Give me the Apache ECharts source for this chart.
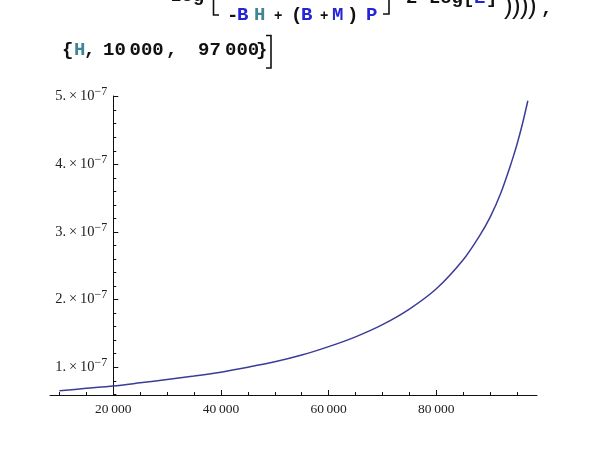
<!DOCTYPE html>
<html>
<head>
<meta charset="utf-8">
<script src="https://cdn.jsdelivr.net/npm/echarts@6/dist/echarts.min.js"></script>
<style>
  html, body { margin: 0; padding: 0; background: #fff; }
  #chart { width: 606px; height: 465px; }
</style>
</head>
<body>
<div id="chart"></div>
<script>
"use strict";

// H values and the plotted values (in units of 10^-7)
var hValues = [10000, 15000, 20000, 25000, 30000, 35000, 40000, 45000, 50000, 55000,
               60000, 65000, 70000, 75000, 80000, 85000, 88000, 90000, 92000, 94000,
               95000, 96000, 97000];
var yValues = [0.653, 0.688, 0.722, 0.77, 0.82, 0.87, 0.928, 1.0, 1.08, 1.18,
               1.305, 1.45, 1.63, 1.86, 2.16, 2.59, 2.94, 3.22, 3.58, 4.04,
               4.3, 4.6, 4.94];

// ticks
var xMajorTicks = [20000, 40000, 60000, 80000];
var xMinorTicks = [10000, 15000, 25000, 30000, 35000, 45000, 50000, 55000,
                   65000, 70000, 75000, 85000, 90000, 95000];
var yMajorTicks = [1, 2, 3, 4, 5];
var yMinorTicks = [0.6, 0.8, 1.2, 1.4, 1.6, 1.8, 2.2, 2.4, 2.6, 2.8, 3.2, 3.4, 3.6, 3.8,
                   4.2, 4.4, 4.6, 4.8];

var X_MIN = 8250, X_MAX = 98700;
var Y_MIN = 0.59, Y_MAX = 5.01;

var BLUE = '#2424d8';
var TEAL = '#3f8595';
var INK = '#111';
var CODE_FONT = 'Liberation Mono';

var chart = echarts.init(document.getElementById('chart'), null, { renderer: 'canvas' });

function codeText(str, left, y, color, size, weight, family) {
    return {
        type: 'text',
        x: left,
        y: y,
        style: {
            text: str,
            fill: color || INK,
            font: (weight || 'bold') + ' ' + (size || 19) + 'px "' + (family || CODE_FONT) + '"',
            verticalAlign: 'middle'
        },
        silent: true
    };
}

function bracket(points) {
    return {
        type: 'polyline',
        shape: { points: points },
        style: { stroke: INK, lineWidth: 1.6, fill: null },
        silent: true
    };
}

var graphics = [
    // first (cut) line of the input cell
    codeText('Log', 170, -4),
    bracket([[213.5, -3], [213.5, 15], [219, 15]]),
    codeText('-', 227, 16),
    codeText('B', 237, 15, BLUE),
    codeText('H', 254, 15, TEAL),
    codeText('+', 274, 16, INK, 14),
    codeText('(', 291, 15),
    codeText('B', 301, 15, BLUE),
    codeText('+', 320, 16, INK, 14),
    codeText('M', 332, 15, BLUE),
    codeText(')', 347, 15),
    codeText('P', 366, 15, BLUE),
    bracket([[383, 14], [389, 14], [389, -3]]),
    codeText('2 Log[', 406, -2),
    codeText('E', 474, -2, BLUE),
    codeText(']', 486, -2),
    codeText(')', 504, 7, INK, 26, 'normal', 'Liberation Sans'),
    codeText(')', 512, 7, INK, 26, 'normal', 'Liberation Sans'),
    codeText(')', 520, 7, INK, 26, 'normal', 'Liberation Sans'),
    codeText(')', 528, 7, INK, 26, 'normal', 'Liberation Sans'),
    codeText(',', 541, 9),
    // second line
    codeText('{', 62, 50),
    codeText('H', 74, 50, TEAL),
    codeText(',', 84, 50),
    codeText('10', 103, 50),
    codeText('000', 129.5, 50),
    codeText(',', 166, 50),
    codeText('97', 198, 50),
    codeText('000', 225, 50),
    codeText('}', 256, 50),
    bracket([[266, 35.5], [271, 35.5], [271, 68], [266, 68]])
];

var labelFont = 'Liberation Serif';

chart.setOption({
    animation: false,
    backgroundColor: '#fff',
    graphic: graphics,
    grid: {
        left: 50,
        right: 69,
        top: 96,
        bottom: 70,
        containLabel: false
    },
    xAxis: [
        {
            type: 'value',
            position: 'bottom',
            min: X_MIN,
            max: X_MAX,
            axisLine: { show: true, lineStyle: { color: INK, width: 1 } },
            axisTick: { show: true, inside: true, length: 5, customValues: xMajorTicks, lineStyle: { color: INK } },
            axisLabel: {
                customValues: xMajorTicks,
                margin: 7,
                color: '#222',
                fontFamily: labelFont,
                fontSize: 13.5,
                formatter: function (v) { return (v / 1000) + '\u2009000'; }
            },
            splitLine: { show: false }
        },
        {
            type: 'value',
            position: 'bottom',
            min: X_MIN,
            max: X_MAX,
            axisLine: { show: false },
            axisTick: { show: true, inside: true, length: 3, customValues: xMinorTicks, lineStyle: { color: INK } },
            axisLabel: { show: false },
            splitLine: { show: false }
        }
    ],
    yAxis: [
        {
            type: 'value',
            position: 'left',
            offset: -63.3,
            min: Y_MIN,
            max: Y_MAX,
            axisLine: { show: true, lineStyle: { color: INK, width: 1 } },
            axisTick: { show: true, inside: true, length: 5, customValues: yMajorTicks, lineStyle: { color: INK } },
            axisLabel: {
                customValues: yMajorTicks,
                margin: 6,
                formatter: function (v) {
                    return '{m|' + v + '.\u2009\u00d7\u200910}{e|\u22127}';
                },
                rich: {
                    m: { fontFamily: labelFont, fontSize: 14.5, lineHeight: 15, color: '#222' },
                    e: { fontFamily: labelFont, fontSize: 12, lineHeight: 12, padding: [0, 0, 9, 0], color: '#222' }
                }
            },
            splitLine: { show: false }
        },
        {
            type: 'value',
            position: 'left',
            offset: -63.3,
            min: Y_MIN,
            max: Y_MAX,
            axisLine: { show: false },
            axisTick: { show: true, inside: true, length: 3, customValues: yMinorTicks, lineStyle: { color: INK } },
            axisLabel: { show: false },
            splitLine: { show: false }
        }
    ],
    series: [
        {
            type: 'line',
            xAxisIndex: 0,
            yAxisIndex: 0,
            data: hValues.map(function (h, i) { return [h, yValues[i]]; }),
            smooth: 0.3,
            showSymbol: false,
            lineStyle: { color: '#3c3c98', width: 1.5 },
            z: 3
        }
    ]
});
</script>
</body>
</html>
